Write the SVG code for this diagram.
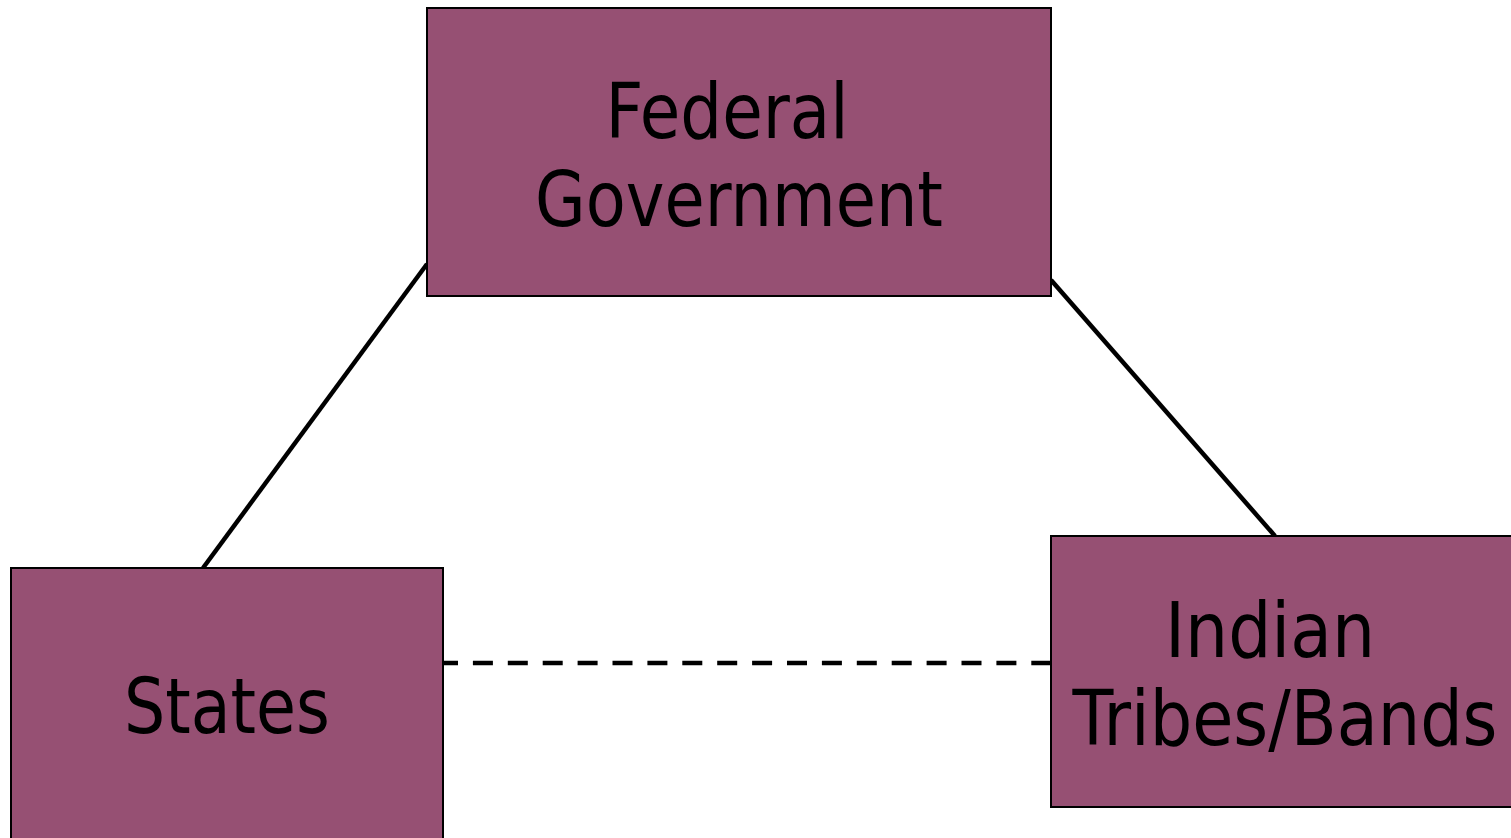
<svg xmlns="http://www.w3.org/2000/svg" width="1511" height="838" viewBox="0 0 1511 838">
  <style>
    .box { fill: #965073; stroke: #000; stroke-width: 2; }
    .label { font-family: "DejaVu Sans", "Liberation Sans", sans-serif; font-size: 76px; fill: #000; text-anchor: middle; }
    .link { stroke: #000; stroke-width: 4.5; fill: none; }
    .dashed { stroke-dasharray: 20 14.9; stroke-dashoffset: 5; }
  </style>
  <rect width="1511" height="838" fill="#fff"/>
  <g id="connectors">
    <line class="link" x1="427" y1="264" x2="203" y2="568"/>
    <line class="link" x1="1051" y1="280" x2="1275" y2="536"/>
    <line class="link dashed" x1="443" y1="663" x2="1051" y2="663"/>
  </g>
  <g id="federal">
    <rect class="box" x="427" y="8" width="624" height="288"/>
    <text class="label" x="727" y="138" textLength="243" lengthAdjust="spacingAndGlyphs">Federal</text>
    <text class="label" x="739" y="226" textLength="408" lengthAdjust="spacingAndGlyphs">Government</text>
  </g>
  <g id="states">
    <rect class="box" x="11" y="568" width="432" height="280"/>
    <text class="label" x="227" y="733" textLength="206" lengthAdjust="spacingAndGlyphs">States</text>
  </g>
  <g id="tribes">
    <rect class="box" x="1051" y="536" width="470" height="271"/>
    <text class="label" x="1270" y="657" textLength="210" lengthAdjust="spacingAndGlyphs">Indian</text>
    <text class="label" x="1285" y="745" textLength="425" lengthAdjust="spacingAndGlyphs">Tribes/Bands</text>
  </g>
</svg>
